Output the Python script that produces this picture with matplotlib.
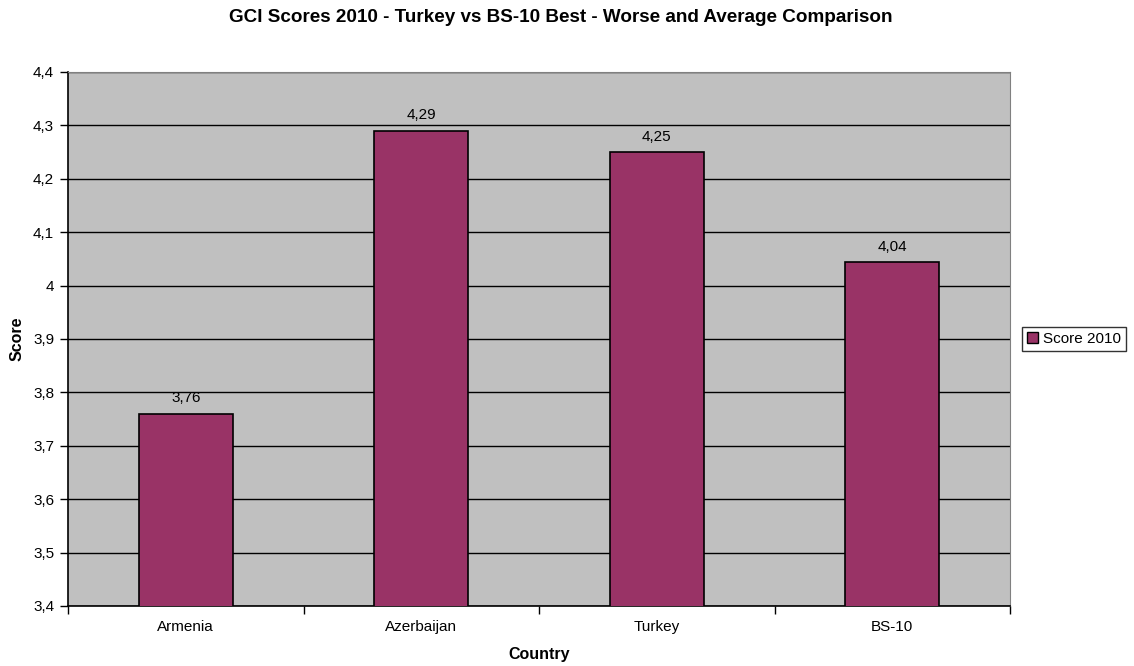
import matplotlib
matplotlib.use("Agg")
import matplotlib.pyplot as plt
from matplotlib.ticker import FuncFormatter, MultipleLocator
from matplotlib.patches import Patch

countries = ["Armenia", "Azerbaijan", "Turkey", "BS-10"]
scores = [3.76, 4.29, 4.25, 4.044]
labels = ["3,76", "4,29", "4,25", "4,04"]

plt.rcParams['font.family'] = ['Liberation Sans', 'DejaVu Sans']

fig = plt.figure(figsize=(11.34, 6.66), dpi=100)
ax = fig.add_axes([0.0600, 0.0901, 0.8307, 0.8018])
ax.set_facecolor('#C0C0C0')

x = range(len(countries))
ax.bar(x, scores, width=0.4, bottom=0, color='#993366', edgecolor='black', linewidth=1.2, zorder=3)
for xi, s, lab in zip(x, scores, labels):
    ax.annotate(lab, (xi, s), xytext=(0, 6), textcoords='offset points',
                ha='center', va='bottom', fontsize=11)

ax.set_ylim(3.4, 4.4)
ax.set_xlim(-0.5, len(countries) - 0.5)
ax.yaxis.set_major_locator(MultipleLocator(0.1))
ax.yaxis.set_major_formatter(FuncFormatter(lambda v, p: ('%g' % round(v, 2)).replace('.', ',')))
ax.yaxis.grid(True, color='black', linewidth=1.0, zorder=1)
ax.set_axisbelow(True)

ax.set_xticks(list(x))
ax.set_xticklabels(countries)
ax.set_xticks([i - 0.5 for i in range(len(countries) + 1)], minor=True)
ax.tick_params(axis='x', which='major', length=0, pad=10, labelsize=11)
ax.tick_params(axis='x', which='minor', length=6, direction='out', width=1)
ax.tick_params(axis='y', length=6, direction='out', width=1, labelsize=11, pad=4)

for side in ['top', 'right']:
    ax.spines[side].set_color('#808080')
for side in ['left', 'bottom']:
    ax.spines[side].set_color('black')
    ax.spines[side].set_linewidth(1.2)

ax.set_xlabel('Country', fontweight='bold', fontsize=11.5)
ax.xaxis.set_label_coords(0.5, (-(655 - 606) / 534), transform=ax.transAxes)
ax.xaxis.label.set_va('center')
ax.set_ylabel('Score', fontweight='bold', fontsize=11.5)
ax.yaxis.set_label_coords(-(68 - 17) / 942, 0.5, transform=ax.transAxes)
ax.yaxis.label.set_va('center')

fig.text(561 / 1134, 1 - 17 / 666, 'GCI Scores 2010 - Turkey vs BS-10 Best - Worse and Average Comparison',
         fontweight='bold', fontsize=13.6, ha='center', va='center')

handle = Patch(facecolor='#993366', edgecolor='black', label='Score 2010')
leg = fig.legend(handles=[handle], loc='center left', bbox_to_anchor=(1022 / 1134, 1 - 339 / 666),
                 frameon=True, fancybox=False, fontsize=11, handlelength=0.7,
                 handleheight=0.7, handletextpad=0.3, borderpad=0.35, borderaxespad=0)
leg.get_frame().set_edgecolor('black')
leg.get_frame().set_linewidth(1.0)

fig.savefig('out.png', dpi=100)
